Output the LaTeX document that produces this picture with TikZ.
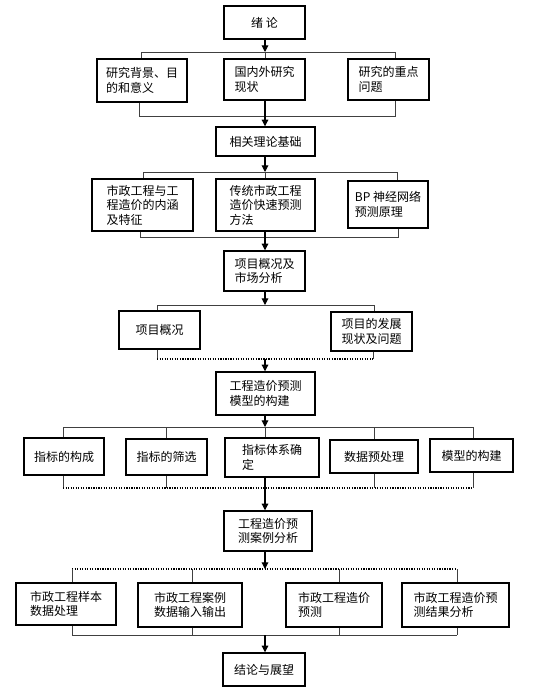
\documentclass[tikz,border=0pt]{standalone}
\usepackage{fontspec}
\newfontfamily\cjk{Noto Sans CJK SC}
\usetikzlibrary{arrows.meta}

\tikzset{
  box/.style={draw, line width=1.1pt, inner sep=0pt, align=left,
    font=\cjk\fontsize{9}{10.8}\selectfont},
  wh/.style 2 args={minimum width=#1*0.75pt, minimum height=#2*0.75pt},
  link/.style={draw=black!75, line width=0.6pt},
  dotlink/.style={line width=0.9pt, densely dotted},
  flow/.style={line width=0.8pt, -{Triangle[length=5pt,width=5pt]}},
}

\begin{document}
\begin{tikzpicture}[x=0.75pt,y=-0.75pt]
		%%%%% START %%%%%
		\useasboundingbox (0,0) rectangle (547,689);
		
		% level 1
		\node[box, wh={81}{33}, align=center] (A) at (264.5,22.5) {绪 论};
		\node[box, wh={90}{43}] (B1) at (142,80.5) {研究背景、目\\的和意义};
		\node[box, wh={81}{41}] (B2) at (264.5,79.5) {国内外研究\\现状};
		\node[box, wh={81}{41}] (B3) at (388.5,79.5) {研究的重点\\问题};
		
		\coordinate (sB) at (265,52);
		\coordinate (sBl) at (141,52);
		\coordinate (sBr) at (395,52);
		\coordinate (mBl) at (139,116);
		\coordinate (mBr) at (395,116);
		
		\draw[link] (sBl) -- (sBr);
		\draw[link] (sBl) -- (sBl |- B1.north);
		\draw[link] (sBr) -- (sBr |- B3.north);
		\draw[link] (sB) -- (sB |- B2.north);
		\draw[flow] (A.south -| sB) -- (sB);
		\draw[link] (mBl |- B1.south) -- (mBl) -- (mBr) -- (mBr |- B3.south);
		
		% level 2
		\node[box, wh={99}{29}, align=center] (C) at (265.5,141.5) {相关理论基础};
		\draw[flow] (B2.south -| sB) -- (C.north -| sB);
		
		\node[box, wh={101}{52}] (D1) at (142.5,205) {市政工程与工\\程造价的内涵\\及特征};
		\node[box, wh={99}{52}] (D2) at (265.5,205) {传统市政工程\\造价快速预测\\方法};
		\node[box, wh={80}{47}] (D3) at (388,204.5) {BP 神经网络\\预测原理};
		
		\coordinate (sD) at (265,172);
		\coordinate (sDl) at (143,172);
		\coordinate (sDr) at (397,172);
		\coordinate (mDl) at (140,237);
		\coordinate (mDr) at (398,237);
		
		\draw[flow] (C.south -| sD) -- (sD);
		\draw[link] (sDl) -- (sDr);
		\draw[link] (sDl) -- (sDl |- D1.north);
		\draw[link] (sDr) -- (sDr |- D3.north);
		\draw[link] (sD) -- (sD |- D2.north);
		\draw[link] (mDl |- D1.south) -- (mDl) -- (mDr) -- (mDr |- D3.south);
		
		% level 3
		\node[box, wh={81}{40}] (E) at (264.5,271) {项目概况及\\市场分析};
		\draw[flow] (D2.south -| sD) -- (E.north -| sD);
		
		\node[box, wh={81}{38}] (F1) at (159.5,330) {项目概况};
		\node[box, wh={81}{39}] (F2) at (371.5,331.5) {项目的发展\\现状及问题};
		
		\coordinate (sF) at (265,305);
		\coordinate (sFl) at (157,305);
		\coordinate (sFr) at (374,305);
		\coordinate (mF) at (265,359);
		\coordinate (mFl) at (157,359);
		\coordinate (mFr) at (373,359);
		
		\draw[flow] (E.south -| sF) -- (sF);
		\draw[link] (sFl) -- (sFr);
		\draw[link] (sFl) -- (sFl |- F1.north);
		\draw[link] (sFr) -- (sFr |- F2.north);
		\draw[link] (mFl |- F1.south) -- (mFl);
		\draw[link] (mFr |- F2.south) -- (mFr);
		\draw[dotlink] (mFl) -- (mFr);
		
		% level 4
		\node[box, wh={99}{43}] (G) at (265.5,393.5) {工程造价预测\\模型的构建};
		\draw[flow] (mF) -- (mF |- G.north);
		
		\node[box, wh={80}{37}] (H1) at (64,456.5) {指标的构成};
		\node[box, wh={81}{36}] (H2) at (166.5,457) {指标的筛选};
		\node[box, wh={94}{39}] (H3) at (272,457.5) {指标体系确\\定};
		\node[box, wh={88}{33}] (H4) at (374,456.5) {数据预处理};
		\node[box, wh={83}{33}] (H5) at (471.5,455.5) {模型的构建};
		
		\coordinate (sH) at (265,427);
		\coordinate (sH1) at (63,427);
		\coordinate (sH2) at (166,427);
		\coordinate (sH4) at (374,427);
		\coordinate (sH5) at (473,427);
		\coordinate (mH1) at (63,488);
		\coordinate (mH2) at (166,488);
		\coordinate (mH4) at (374,488);
		\coordinate (mH5) at (473,488);
		
		\draw[flow] (G.south -| sH) -- (sH);
		\draw[link] (sH1) -- (sH5);
		\draw[link] (sH) -- (sH |- H3.north);
		\foreach \k/\b in {1/H1,2/H2,4/H4,5/H5}{
			\draw[link] (sH\k) -- (sH\k |- \b.north);
			\draw[link] (mH\k |- \b.south) -- (mH\k);
		}
		\draw[dotlink] (mH1) -- (mH5);
		
		% level 5
		\node[box, wh={88}{40}] (I) at (268,531) {工程造价预\\测案例分析};
		\draw[flow] (H3.south -| sH) -- (I.north -| sH);
		
		\node[box, wh={100}{42}] (J1) at (66,604) {市政工程样本\\数据处理};
		\node[box, wh={104}{44}] (J2) at (190,605) {市政工程案例\\数据输入输出};
		\node[box, wh={96}{44}] (J3) at (334,605) {市政工程造价\\预测};
		\node[box, wh={107}{44}] (J4) at (455.5,605) {市政工程造价预\\测结果分析};
		
		\coordinate (sJ) at (265,569);
		\coordinate (sJ1) at (72,569);
		\coordinate (sJ2) at (192,569);
		\coordinate (sJ3) at (339,569);
		\coordinate (sJ4) at (457,569);
		\coordinate (mJ) at (265,635);
		\coordinate (mJ1) at (72,635);
		\coordinate (mJ2) at (192,635);
		\coordinate (mJ3) at (339,635);
		\coordinate (mJ4) at (457,635);
		
		\draw[flow] (I.south -| sJ) -- (sJ);
		\draw[dotlink] (sJ1) -- (sJ4);
		\foreach \k in {1,2,3,4}{
			\draw[link] (sJ\k) -- (sJ\k |- J\k.north);
			\draw[link] (mJ\k |- J\k.south) -- (mJ\k);
		}
		\draw[link] (mJ1) -- (mJ4);
		
		% end
		\node[box, wh={82}{33}, align=center] (K) at (264,669.5) {结论与展望};
		\draw[flow] (mJ) -- (mJ |- K.north);
		
		%%%%% END %%%%%
\end{tikzpicture}
\end{document}
